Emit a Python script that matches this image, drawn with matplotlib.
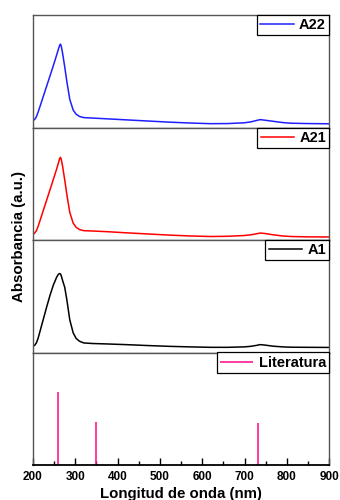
import matplotlib
matplotlib.use("Agg")
import matplotlib.pyplot as plt
from matplotlib.ticker import MultipleLocator

plt.rcParams['font.family'] = ['Liberation Sans', 'DejaVu Sans']
plt.rcParams['font.weight'] = 'bold'

# wavelength grid (nm)
wl = [200, 204, 208, 212, 216, 224, 232, 240, 248, 256, 260, 263, 265, 267, 270,
      275, 280, 287, 295, 302, 310, 320, 340, 375, 420, 470, 520, 570, 620, 660,
      700, 715, 728, 737, 748, 768, 790, 810, 850, 900]

a22 = [0.062, 0.072, 0.095, 0.135, 0.180, 0.272, 0.364, 0.456, 0.548, 0.645, 0.695,
       0.730, 0.741, 0.720, 0.660, 0.540, 0.410, 0.250, 0.155, 0.118, 0.098, 0.088,
       0.084, 0.077, 0.068, 0.058, 0.048, 0.040, 0.034, 0.035, 0.042, 0.050, 0.062,
       0.070, 0.065, 0.055, 0.044, 0.038, 0.035, 0.033]
a21 = [0.050, 0.062, 0.082, 0.120, 0.165, 0.258, 0.351, 0.444, 0.537, 0.632, 0.684,
       0.722, 0.735, 0.714, 0.655, 0.535, 0.405, 0.245, 0.150, 0.113, 0.093, 0.083,
       0.080, 0.074, 0.064, 0.054, 0.044, 0.036, 0.031, 0.033, 0.040, 0.046, 0.055,
       0.062, 0.058, 0.046, 0.036, 0.031, 0.028, 0.027]
a1 = [0.055, 0.064, 0.085, 0.125, 0.180, 0.290, 0.400, 0.505, 0.598, 0.670, 0.695,
      0.702, 0.698, 0.680, 0.640, 0.580, 0.470, 0.290, 0.175, 0.125, 0.100, 0.085,
      0.080, 0.076, 0.070, 0.062, 0.055, 0.050, 0.046, 0.046, 0.050, 0.055, 0.063,
      0.070, 0.066, 0.056, 0.050, 0.047, 0.046, 0.045]

lit_wl = [260, 350, 733]
lit_int = [0.645, 0.38, 0.372]

series = [("A22", a22, "#1f1fff"), ("A21", a21, "#ff0000"), ("A1", a1, "#000000")]

fig = plt.figure(figsize=(3.4, 5.0), dpi=100)
gs = fig.add_gridspec(4, 1, left=0.097, right=0.968, top=0.97, bottom=0.07, hspace=0)
axes = [fig.add_subplot(gs[i]) for i in range(4)]

for ax, (name, vals, col) in zip(axes[:3], series):
    ax.plot(wl, vals, color=col, lw=1.1, label=name)

axes[3].vlines(lit_wl, 0, lit_int, color="#ff1a8c", lw=1.2, label="Literatura")

for i, ax in enumerate(axes):
    ax.set_xlim(200, 900)
    ax.set_ylim(0, 1)
    ax.set_yticks([])
    for s in ax.spines.values():
        s.set_color("#555555")
        s.set_linewidth(1.0)
    leg = ax.legend(loc="upper right", borderaxespad=0, fancybox=False,
                    framealpha=1, edgecolor="black", handlelength=2.3,
                    handletextpad=0.35, borderpad=0.22, prop={'weight': 'bold', 'size': 10.5})
    leg.get_frame().set_linewidth(0.9)
    if i < 3:
        ax.tick_params(axis='x', which='both', bottom=False, labelbottom=False)
    else:
        ax.spines['bottom'].set_color("black")
        ax.spines['bottom'].set_linewidth(1.3)
        ax.xaxis.set_major_locator(MultipleLocator(100))
        ax.xaxis.set_minor_locator(MultipleLocator(50))
        ax.tick_params(axis='x', which='major', direction='in', length=5, width=1, labelsize=8.5, pad=4)
        ax.tick_params(axis='x', which='minor', direction='in', length=3, width=1)
        for t in ax.get_xticklabels():
            t.set_fontweight('bold')
        ax.set_xlabel("Longitud de onda (nm)", fontsize=10.8, fontweight='bold', labelpad=3)

fig.text(0.055, 0.528, "Absorbancia (a.u.)", rotation=90, ha='center', va='center',
         fontsize=10.8, fontweight='bold')

fig.savefig("out.png", dpi=100)
